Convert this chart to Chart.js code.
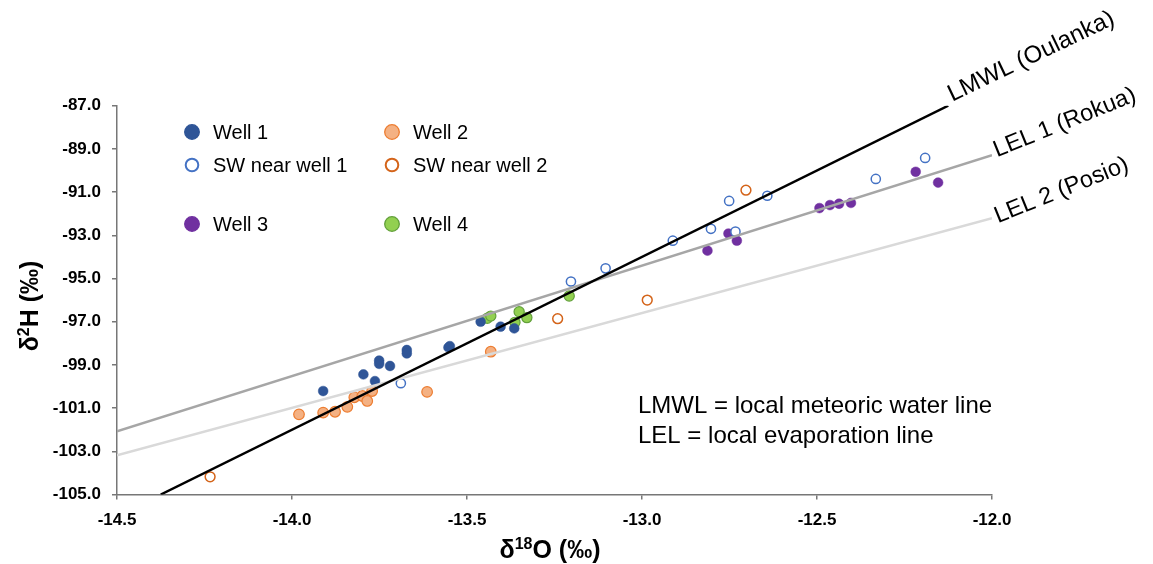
<!DOCTYPE html>
<html>
<head>
<meta charset="utf-8">
<script src="https://cdn.jsdelivr.net/npm/chart.js@4"></script>
<style>
  html, body { margin: 0; padding: 0; background: #fff; }
  #c { display: block; }
</style>
</head>
<body>
<canvas id="c" width="1153" height="564"></canvas>
<script>
// ---------- data ----------
const xTickLabels = ['-14.5', '-14.0', '-13.5', '-13.0', '-12.5', '-12.0'];
const yTickLabels = ['-105.0', '-103.0', '-101.0', '-99.0', '-97.0', '-95.0', '-93.0', '-91.0', '-89.0', '-87.0'];

const well1X = [-13.911, -13.796, -13.751, -13.751, -13.720, -13.763, -13.672, -13.672, -13.553, -13.549, -13.461, -13.404, -13.365];
const well1Y = [-100.21, -99.44, -98.80, -98.95, -99.05, -99.75, -98.31, -98.47, -98.19, -98.13, -97.00, -97.23, -97.31];

const sw1X = [-13.689, -13.203, -13.104, -12.912, -12.803, -12.751, -12.733, -12.642, -12.332, -12.191];
const sw1Y = [-99.85, -95.14, -94.53, -93.25, -92.70, -91.41, -92.83, -91.17, -90.39, -89.42];

const well2X = [-13.980, -13.911, -13.877, -13.842, -13.822, -13.799, -13.785, -13.771, -13.614, -13.432];
const well2Y = [-101.29, -101.21, -101.17, -100.94, -100.50, -100.44, -100.67, -100.21, -100.25, -98.39];

const sw2X = [-14.234, -13.241, -12.985, -12.703];
const sw2Y = [-104.18, -96.86, -96.00, -90.91];

const well3X = [-12.813, -12.753, -12.729, -12.493, -12.463, -12.437, -12.403, -12.218, -12.154];
const well3Y = [-93.71, -92.92, -93.25, -91.74, -91.60, -91.54, -91.50, -90.06, -90.56];

const well4X = [-13.442, -13.432, -13.351, -13.363, -13.329, -13.208];
const well4Y = [-96.84, -96.74, -96.54, -97.03, -96.81, -95.81];

// reference lines (end points)
const lmwlX = [-14.375, -12.125];
const lmwlY = [-105.0, -87.0];
const lel1X = [-14.5, -12.0];
const lel1Y = [-102.08, -89.29];
const lel2X = [-14.5, -12.0];
const lel2Y = [-103.19, -92.21];

const lineLabels = ['LMWL (Oulanka)', 'LEL 1 (Rokua)', 'LEL 2 (Posio)'];
const seriesNames = ['Well 1', 'SW near well 1', 'Well 2', 'SW near well 2', 'Well 3', 'Well 4'];
const noteLines = ['LMWL = local meteoric water line', 'LEL = local evaporation line'];

// ---------- helpers ----------
const pts = (xs, ys) => xs.map((x, i) => ({ x: x, y: ys[i] }));
const FONT = "'Liberation Sans', Arial, Helvetica, sans-serif";

const styles = [
  { bg: '#2f5597', border: '#2f5597', r: 4.9, bw: 0.5 },   // Well 1
  { bg: '#ffffff', border: '#4472c4', r: 4.6, bw: 1.5 },   // SW near well 1
  { bg: '#f4b183', border: '#ed7d31', r: 5.3, bw: 1.2 },   // Well 2
  { bg: '#ffffff', border: '#d4641a', r: 4.9, bw: 1.5 },   // SW near well 2
  { bg: '#7030a0', border: '#7030a0', r: 4.9, bw: 0.5 },   // Well 3
  { bg: '#92d050', border: '#62a03a', r: 5.1, bw: 1.2 }    // Well 4
];
const seriesData = [pts(well1X, well1Y), pts(sw1X, sw1Y), pts(well2X, well2Y), pts(sw2X, sw2Y), pts(well3X, well3Y), pts(well4X, well4Y)];

const lineDatasets = [
  { type: 'line', label: lineLabels[0], data: pts(lmwlX, lmwlY), borderColor: '#000000', borderWidth: 2.5, pointRadius: 0, fill: false, tension: 0 },
  { type: 'line', label: lineLabels[1], data: pts(lel1X, lel1Y), borderColor: '#a6a6a6', borderWidth: 2.5, pointRadius: 0, fill: false, tension: 0 },
  { type: 'line', label: lineLabels[2], data: pts(lel2X, lel2Y), borderColor: '#d9d9d9', borderWidth: 2.5, pointRadius: 0, fill: false, tension: 0 }
];
const scatterDatasets = seriesNames.map((n, i) => ({
  type: 'scatter', label: n, data: seriesData[i],
  backgroundColor: styles[i].bg, borderColor: styles[i].border,
  pointRadius: styles[i].r, pointBorderWidth: styles[i].bw, pointHoverRadius: styles[i].r
}));

// draw text with superscript pieces: parts = [[text, sup?], ...]
function drawParts(ctx, parts, cx, cy, size) {
  const big = 'bold ' + size + 'px ' + FONT;
  const small = 'bold ' + Math.round(size * 0.62) + 'px ' + FONT;
  let total = 0;
  parts.forEach(p => { ctx.font = p[1] ? small : big; total += ctx.measureText(p[0]).width; });
  let x = cx - total / 2;
  ctx.textAlign = 'left';
  ctx.textBaseline = 'alphabetic';
  const base = cy + size * 0.36;
  parts.forEach(p => {
    ctx.font = p[1] ? small : big;
    ctx.fillText(p[0], x, p[1] ? base - size * 0.38 : base);
    x += ctx.measureText(p[0]).width;
  });
}

const decor = {
  id: 'decor',
  afterDraw(chart) {
    const ctx = chart.ctx;
    const xs = chart.scales.x, ys = chart.scales.y;
    ctx.save();
    ctx.fillStyle = '#000';

    // legend
    const legendPos = [[192, 132], [192, 165], [392, 132], [392, 165], [192, 224], [392, 224]];
    seriesNames.forEach((n, i) => {
      const [mx, my] = legendPos[i];
      const s = styles[i];
      ctx.beginPath();
      const open = s.bg === '#ffffff';
      ctx.arc(mx, my, open ? 6.3 : 7.3, 0, Math.PI * 2);
      ctx.fillStyle = s.bg;
      ctx.fill();
      ctx.lineWidth = open ? 2 : 1.3;
      ctx.strokeStyle = s.border;
      ctx.stroke();
      ctx.fillStyle = '#000';
      ctx.font = '20px ' + FONT;
      ctx.textAlign = 'left';
      ctx.textBaseline = 'middle';
      ctx.fillText(n, mx + 21, my + 1);
    });

    // note
    ctx.font = '24px ' + FONT;
    ctx.textAlign = 'left';
    ctx.textBaseline = 'middle';
    ctx.fillText(noteLines[0], 638, 406);
    ctx.fillText(noteLines[1], 638, 436);

    // line labels anchored at line ends
    const ends = [
      [lmwlX[1], lmwlY[1], 4, -4, -25.5, 24],
      [lel1X[1], lel1Y[1], 5, 2, -22, 23.5],
      [lel2X[1], lel2Y[1], 6, 5, -22, 23.5]
    ];
    ctx.textBaseline = 'alphabetic';
    ends.forEach((e, i) => {
      const px = xs.getPixelForValue(e[0]) + e[2];
      const py = ys.getPixelForValue(e[1]) + e[3];
      ctx.save();
      ctx.font = e[5] + 'px ' + FONT;
      ctx.translate(px, py);
      ctx.rotate(e[4] * Math.PI / 180);
      ctx.fillText(lineLabels[i], 0, 0);
      ctx.restore();
    });

    // axis titles
    ctx.fillStyle = '#000';
    drawParts(ctx, [['δ', false], ['18', true], ['O (‰)', false]], 550, 549, 25);
    ctx.save();
    ctx.translate(29, 306);
    ctx.rotate(-Math.PI / 2);
    drawParts(ctx, [['δ', false], ['2', true], ['H (‰)', false]], 0, 0, 25);
    ctx.restore();

    ctx.restore();
  }
};

new Chart(document.getElementById('c'), {
  data: { datasets: lineDatasets.concat(scatterDatasets) },
  options: {
    responsive: false,
    animation: false,
    devicePixelRatio: 1,
    layout: { padding: { top: 105.7, right: 161, left: 0, bottom: 0 } },
    plugins: { legend: { display: false }, tooltip: { enabled: false }, title: { display: false } },
    scales: {
      x: {
        type: 'linear', min: -14.5, max: -12.0,
        afterBuildTicks: s => { s.ticks = xTickLabels.map(v => ({ value: parseFloat(v) })); },
        ticks: { callback: (v) => xTickLabels.find(t => parseFloat(t) === v) || '', font: { family: FONT, size: 17, weight: 'bold' }, color: '#000', padding: 11, maxRotation: 0, autoSkip: false },
        grid: { drawOnChartArea: false, drawTicks: true, tickLength: 5, color: '#777', lineWidth: 1.5 },
        border: { color: '#777', width: 1.5 },
        afterFit: s => { s.height = 69.5; }
      },
      y: {
        type: 'linear', min: -105, max: -87,
        afterBuildTicks: s => { s.ticks = yTickLabels.map(v => ({ value: parseFloat(v) })); },
        ticks: { callback: (v) => yTickLabels.find(t => parseFloat(t) === v) || '', font: { family: FONT, size: 17, weight: 'bold' }, color: '#000', padding: 11, autoSkip: false },
        grid: { drawOnChartArea: false, drawTicks: true, tickLength: 5, color: '#777', lineWidth: 1.5 },
        border: { color: '#777', width: 1.5 },
        afterFit: s => { s.width = 117; }
      }
    }
  },
  plugins: [decor]
});
</script>
</body>
</html>
